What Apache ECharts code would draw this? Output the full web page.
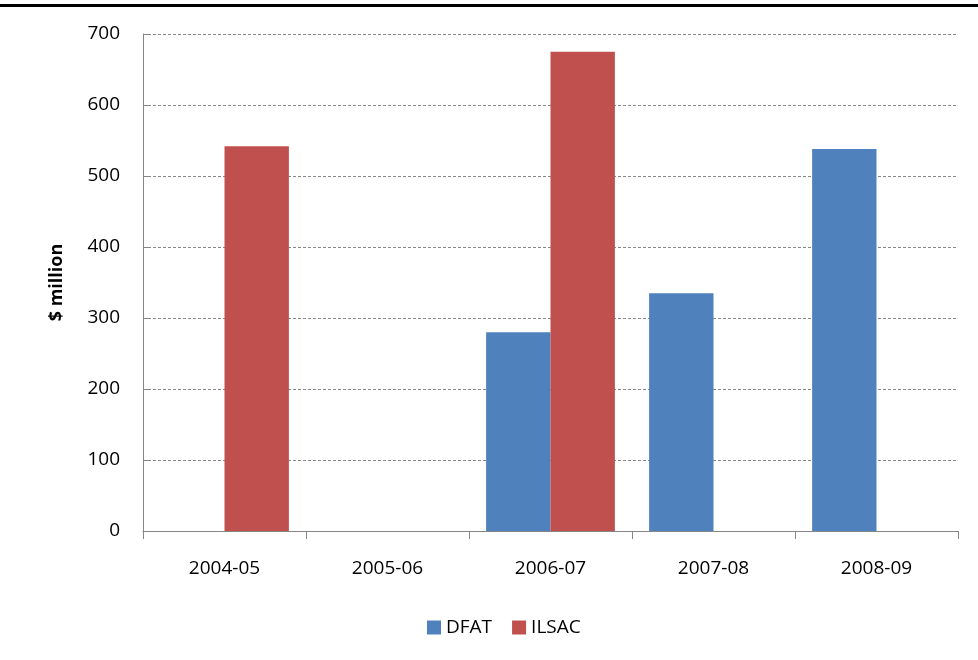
<!DOCTYPE html>
<html><head><meta charset="utf-8">
<script src="https://cdn.jsdelivr.net/npm/echarts@6/dist/echarts.min.js"></script>
<style>html,body{margin:0;padding:0;background:#fff}#top{position:absolute;left:0;top:4px;width:978px;height:3px;background:#000}#c{width:978px;height:660px}</style>
</head><body><div id="top"></div><div id="c"></div>
<script>
const categories = ['2004-05','2005-06','2006-07','2007-08','2008-09'];
const dfat = [null, null, 280, 335, 538];
const ilsac = [542, null, 675, null, null];
const yTicks = [0,100,200,300,400,500,600,700];
const font = 'Open Sans, Noto Sans, sans-serif';
const chart = echarts.init(document.getElementById('c'));
chart.setOption({
  animation:false,
  textStyle:{fontFamily:font},
  grid:{left:143,right:20,top:34,bottom:129,containLabel:false},
  legend:{bottom:18,left:422,itemWidth:14,itemHeight:14,itemGap:20,icon:'rect',
    textStyle:{fontSize:19,color:'#000',fontFamily:font},data:['DFAT','ILSAC']},
  xAxis:{type:'category',data:categories,
    axisLine:{lineStyle:{color:'#868686',width:1}},
    axisTick:{show:true,length:8,lineStyle:{color:'#868686'}},
    axisLabel:{fontSize:19,color:'#000',margin:28,fontFamily:font}},
  yAxis:{type:'value',min:0,max:700,interval:100,name:'$ million',nameLocation:'middle',nameGap:77,
    nameTextStyle:{fontSize:18,fontWeight:'bold',color:'#000',fontFamily:font},
    axisLine:{show:true,lineStyle:{color:'#868686'}},
    axisTick:{show:true,inside:true,length:6,lineStyle:{color:'#868686'}},
    axisLabel:{fontSize:19,color:'#000',margin:23,fontFamily:font,formatter:v=>yTicks.includes(v)?String(v):''},
    splitLine:{lineStyle:{color:'#888',type:[3,2],width:1}}},
  series:[
    {name:'DFAT',type:'bar',data:dfat,itemStyle:{color:'#4F81BD'},barGap:'0%',barCategoryGap:'21%'},
    {name:'ILSAC',type:'bar',data:ilsac,itemStyle:{color:'#C0504D'},barGap:'0%',barCategoryGap:'21%'}
  ]
});
</script></body></html>
